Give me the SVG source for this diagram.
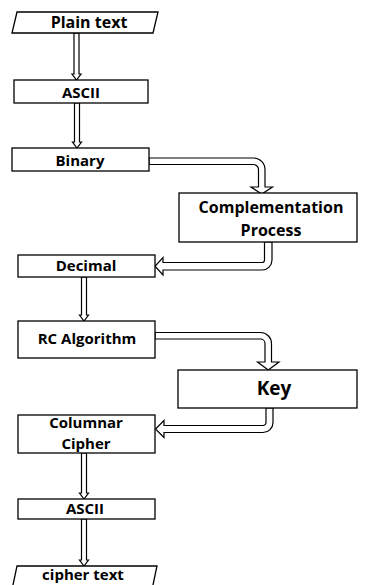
<svg xmlns="http://www.w3.org/2000/svg" width="376" height="585" viewBox="0 0 376 585">
<style>
.b{fill:#fff;stroke:#000;stroke-width:1.3}
.a{fill:#fff;stroke:#000;stroke-width:1.2;stroke-linejoin:miter}
.t{font-family:"Open Sans","Liberation Sans",sans-serif;font-weight:700;font-size:15px;fill:#000;text-anchor:middle}
</style>
<rect width="376" height="585" fill="#fff"/>
<g id="connectors">
<path class="a" d="M74,33 V74 H72 L76.5,80 L81,74 H79 V33 Z"/>
<path class="a" d="M74.5,103 V142 H72.5 L77,148 L81.5,142 H79.5 V103 Z"/>
<path class="a" d="M149,158 H253.5 A11.5,11.5 0 0 1 265,169.5 V187 H272.5 L261.75,194 L251,187 H258.5 V169.5 A5,5 0 0 0 253.5,164.5 H149 Z"/>
<path class="a" d="M264.5,242 H272 V260 A10,10 0 0 1 262,270 H163 V275 L155,266.25 L163,257.5 V262.5 H262 A2.5,2.5 0 0 0 264.5,260 Z"/>
<path class="a" d="M81.5,277 V315 H79.5 L84,321 L88.5,315 H86.5 V277 Z"/>
<path class="a" d="M155,332.5 H260.5 A11,11 0 0 1 271.5,343.5 V362 H279 L268.25,370 L257.5,362 H265 V343.5 A4.5,4.5 0 0 0 260.5,339 H155 Z"/>
<path class="a" d="M266,408 H273 V422.5 A10,10 0 0 1 263,432.5 H164 V437.5 L155.5,429 L164,420.5 V425.5 H263 A3,3 0 0 0 266,422.5 Z"/>
<path class="a" d="M81.5,453 V493 H79.5 L84,499 L88.5,493 H86.5 V453 Z"/>
<path class="a" d="M81.5,519 V560 H79.5 L84,566 L88.5,560 H86.5 V519 Z"/>
</g>
<g id="plain-text">
<polygon class="b" points="17,12 158,12 153,33 12,33"/>
<text class="t" x="89" y="28" style="font-size:16px">Plain text</text>
</g>
<g id="ascii-1">
<rect class="b" x="14" y="80" width="134" height="23"/>
<text class="t" x="81" y="98">ASCII</text>
</g>
<g id="binary">
<rect class="b" x="12" y="148" width="137" height="23"/>
<text class="t" x="80" y="166">Binary</text>
</g>
<g id="complementation">
<rect class="b" x="179" y="193" width="178" height="49"/>
<text class="t" x="271" y="213" style="font-size:16px">Complementation</text>
<text class="t" x="271" y="236" style="font-size:16px">Process</text>
</g>
<g id="decimal">
<rect class="b" x="18" y="255" width="137" height="22"/>
<text class="t" x="86" y="271">Decimal</text>
</g>
<g id="rc-algorithm">
<rect class="b" x="18" y="321" width="137" height="37"/>
<text class="t" x="87" y="344">RC Algorithm</text>
</g>
<g id="key">
<rect class="b" x="178" y="370" width="179" height="38"/>
<text class="t" x="274" y="395" style="font-size:19px">Key</text>
</g>
<g id="columnar-cipher">
<rect class="b" x="18" y="415" width="137" height="38"/>
<text class="t" x="86" y="428">Columnar</text>
<text class="t" x="86" y="449">Cipher</text>
</g>
<g id="ascii-2">
<rect class="b" x="18" y="499" width="137" height="20"/>
<text class="t" x="85" y="514">ASCII</text>
</g>
<g id="cipher-text">
<polygon class="b" points="17,566 157,566 151.5,592 11.5,592"/>
<text class="t" x="83" y="580">cipher text</text>
</g>
</svg>
